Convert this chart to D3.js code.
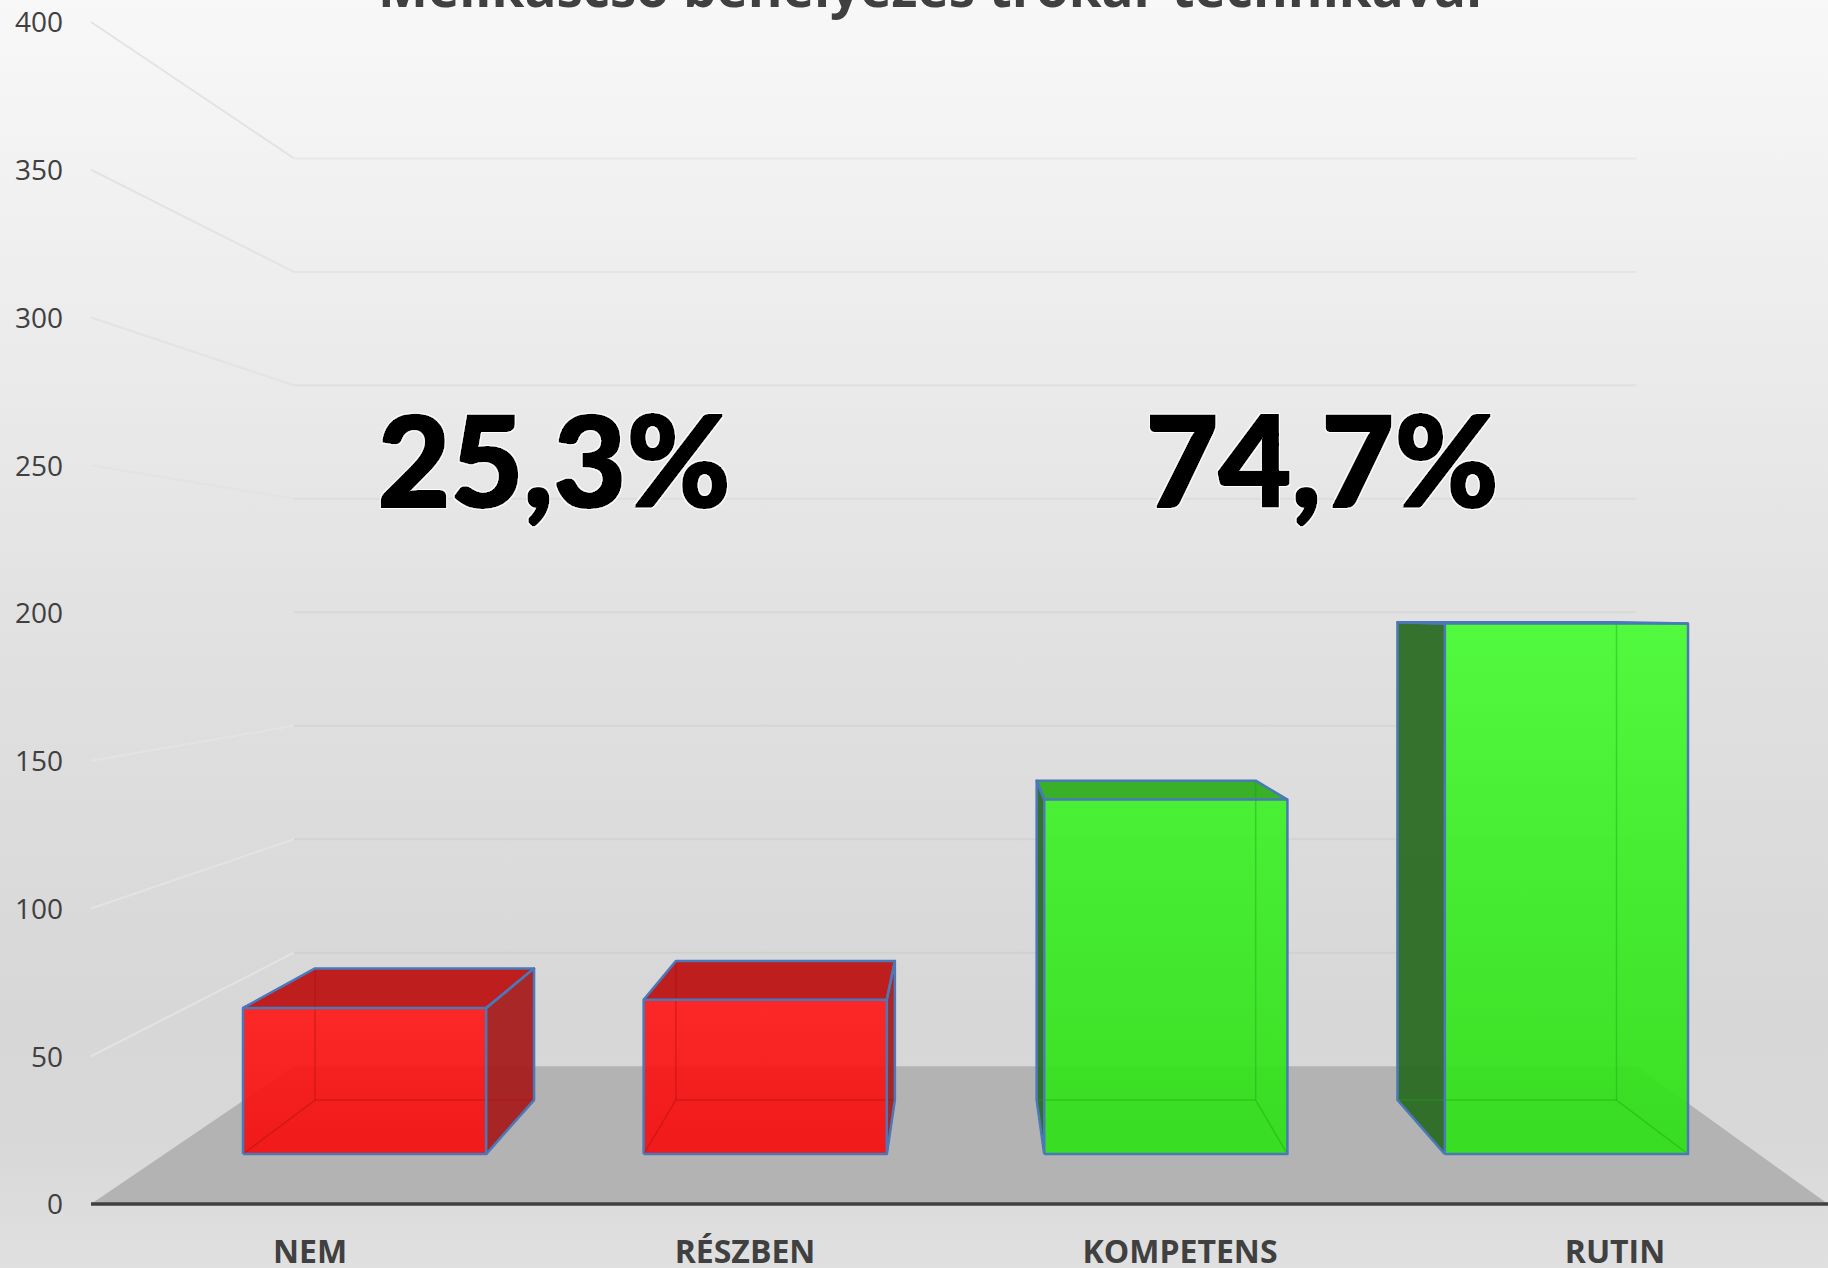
<!DOCTYPE html>
<html>
<head>
<meta charset="utf-8">
<script src="https://cdn.jsdelivr.net/npm/d3@7"></script>
<style>
html,body{margin:0;padding:0;overflow:hidden;}
svg{display:block;}
text{font-family:"Open Sans",sans-serif;}
</style>
</head>
<body>
<div id="chart"></div>
<script>
var categories=["NEM","RÉSZBEN","KOMPETENS","RUTIN"];
var values=[54,57,131,196];
var yTicks=[0,50,100,150,200,250,300,350,400];
var titleText="Mellkascső behelyezés trokár technikával";
var shareLabels=["25,3%","74,7%"];
var groupColor=["red","red","green","green"];

var ww=1828,hh=1268;
var plotLeft=91,plotRight=1828;
// walls: front plane -> back wall, x and y shrink a bit differently in the original
var vpX=985,vpY=610,backSx=.773,backSy=.768;
// boxes sit on their own vanishing x
var barVpX=968,barFrontS=.916,barBackS=.825;

var y=d3.scaleLinear().domain([0,400]).range([1204,22]);
var x=d3.scaleBand().domain(categories).range([90.6,1840]).paddingInner(.393).paddingOuter(.1965);

function wall(wx,v,back){
  return [vpX+(wx-vpX)*(back?backSx:1),vpY+(y(v)-vpY)*(back?backSy:1)];
}
function box(wx,v,s){
  return [barVpX+(wx-barVpX)*s,vpY+(y(v)-vpY)*s];
}

var svg=d3.select("#chart").append("svg").attr("width",ww).attr("height",hh);
var defs=svg.append("defs");

var bg=defs.append("linearGradient").attr("id","bg").attr("x1",0).attr("y1",0).attr("x2",0).attr("y2",1);
[[0,"#f8f8f8"],[.5,"#e1e1e1"],[.8,"#d7d7d7"],[.9,"#d8d8d8"],[1,"#e0e0e0"]].forEach(function(s){
  bg.append("stop").attr("offset",s[0]).attr("stop-color",s[1]);
});
var gr=defs.append("linearGradient").attr("id","gradred").attr("x1",0).attr("y1",0).attr("x2",0).attr("y2",1);
gr.append("stop").attr("offset",0).attr("stop-color","#ff1818");
gr.append("stop").attr("offset",1).attr("stop-color","#f50d0d");
var gg=defs.append("linearGradient").attr("id","gradgreen").attr("gradientUnits","userSpaceOnUse")
  .attr("x1",0).attr("y1",620).attr("x2",0).attr("y2",1154);
gg.append("stop").attr("offset",0).attr("stop-color","#46fc31");
gg.append("stop").attr("offset",.35).attr("stop-color","#3cf126");
gg.append("stop").attr("offset",1).attr("stop-color","#2ee016");

// heavier digits with a thin white rim, like the big percent labels
var halo=defs.append("filter").attr("id","halo").attr("x","-5%").attr("y","-5%").attr("width","110%").attr("height","110%");
halo.append("feMorphology").attr("in","SourceAlpha").attr("operator","dilate").attr("radius",1).attr("result","fat");
halo.append("feMorphology").attr("in","SourceAlpha").attr("operator","dilate").attr("radius",2.2).attr("result","rim");
halo.append("feFlood").attr("flood-color","#fff").attr("result","white");
halo.append("feComposite").attr("in","white").attr("in2","rim").attr("operator","in").attr("result","whiterim");
var hm=halo.append("feMerge");
hm.append("feMergeNode").attr("in","whiterim");
hm.append("feMergeNode").attr("in","fat");

svg.append("rect").attr("width",ww).attr("height",hh).attr("fill","url(#bg)");

var line=d3.line();
// floor
svg.append("path")
   .attr("d",line([wall(plotLeft,0,false),wall(plotLeft,0,true),wall(plotRight,0,true),wall(plotRight,0,false)])+"Z")
   .attr("fill","#b3b3b3");

// gridlines, side wall then back wall
svg.selectAll("path.gridside").data(yTicks.slice(1)).enter().append("path")
   .attr("class","gridside")
   .attr("d",function(d){return line([wall(plotLeft,d,false),wall(plotLeft,d,true)]);})
   .attr("fill","none")
   .attr("stroke","#e3e3e3")
   .attr("stroke-width",2);
svg.selectAll("path.gridback").data(yTicks.slice(1)).enter().append("path")
   .attr("class","gridback")
   .attr("d",function(d){return line([wall(plotLeft,d,true),wall(plotRight,d,true)]);})
   .attr("fill","none")
   .attr("stroke","#000")
   .attr("stroke-opacity",.04)
   .attr("stroke-width",2);

// boxes
var faceColor={
  red:{front:"url(#gradred)",top:"#bf1e1e",side:"#a81e1e",hidden:"#a80f0f"},
  green:{front:"url(#gradgreen)",top:"#38b028",side:"#2b6c24",hidden:"#12a80c"}
};
var bars=svg.selectAll("g.bar").data(values).enter().append("g").attr("class","bar");
bars.each(function(v,i){
  var g=d3.select(this),c=faceColor[groupColor[i]];
  var l=x(categories[i]),r=l+x.bandwidth();
  var fbl=box(l,0,barFrontS),fbr=box(r,0,barFrontS),ftl=box(l,v,barFrontS),ftr=box(r,v,barFrontS);
  var bbl=box(l,0,barBackS),bbr=box(r,0,barBackS),btl=box(l,v,barBackS),btr=box(r,v,barBackS);
  var side=(r<vpX)?[fbr,bbr,btr,ftr]:[fbl,bbl,btl,ftl];
  var top=[ftl,ftr,btr,btl];
  g.append("path").attr("d",line(side)+"Z").attr("fill",c.side).attr("fill-opacity",.95);
  g.append("path").attr("d",line(top)+"Z").attr("fill",c.top);
  g.append("path").attr("d",line([fbl,fbr,ftr,ftl])+"Z").attr("fill",c.front).attr("fill-opacity",.92);
  // edges seen through the box
  [[bbl,bbr],[bbl,btl],[bbr,btr],[fbl,bbl],[fbr,bbr]].forEach(function(e){
    g.append("path").attr("d",line(e)).attr("fill","none").attr("stroke",c.hidden).attr("stroke-opacity",.4).attr("stroke-width",1.5);
  });
  // outline
  [[fbl,fbr,ftr,ftl,fbl],[ftl,btl,btr,ftr],side].forEach(function(e){
    g.append("path").attr("d",line(e)).attr("fill","none").attr("stroke","#4a78b8").attr("stroke-width",2.5).attr("stroke-linejoin","round");
  });
});

// y axis, just the labels
var yAxis=d3.axisLeft(y).tickValues(yTicks).tickSize(0).tickPadding(0);
var gy=svg.append("g").attr("transform","translate(63,1)").call(yAxis);
gy.select(".domain").remove();
gy.selectAll("text").attr("font-size",28).attr("font-family","'Open Sans',sans-serif").attr("fill","#404040");

// x axis baseline
svg.append("line").attr("x1",plotLeft).attr("x2",plotRight).attr("y1",y(0)).attr("y2",y(0))
   .attr("stroke","#404040").attr("stroke-width",3.5);

var xLabelPos=d3.scalePoint().domain(categories).range([310,1615]);
svg.selectAll("text.cat").data(categories).enter().append("text")
   .attr("class","cat")
   .attr("x",function(d){return xLabelPos(d);})
   .attr("y",1263)
   .attr("text-anchor","middle")
   .attr("font-size",32)
   .attr("font-weight",700)
   .attr("fill","#404040")
   .text(function(d){return d;});

svg.append("text")
   .attr("x",930).attr("y",7)
   .attr("text-anchor","middle")
   .attr("font-size",53)
   .attr("font-weight",700)
   .attr("fill","#404040")
   .text(titleText);

var shareX=d3.scalePoint().domain(shareLabels).range([554,1322]);
svg.selectAll("text.share").data(shareLabels).enter().append("text")
   .attr("class","share")
   .attr("x",function(d){return shareX(d);})
   .attr("y",507)
   .attr("text-anchor","middle")
   .style("font-family","Lato,sans-serif")
   .attr("font-size",126)
   .attr("font-weight",900)
   .attr("fill","#000")
   .attr("filter","url(#halo)")
   .text(function(d){return d;});
</script>
</body>
</html>
